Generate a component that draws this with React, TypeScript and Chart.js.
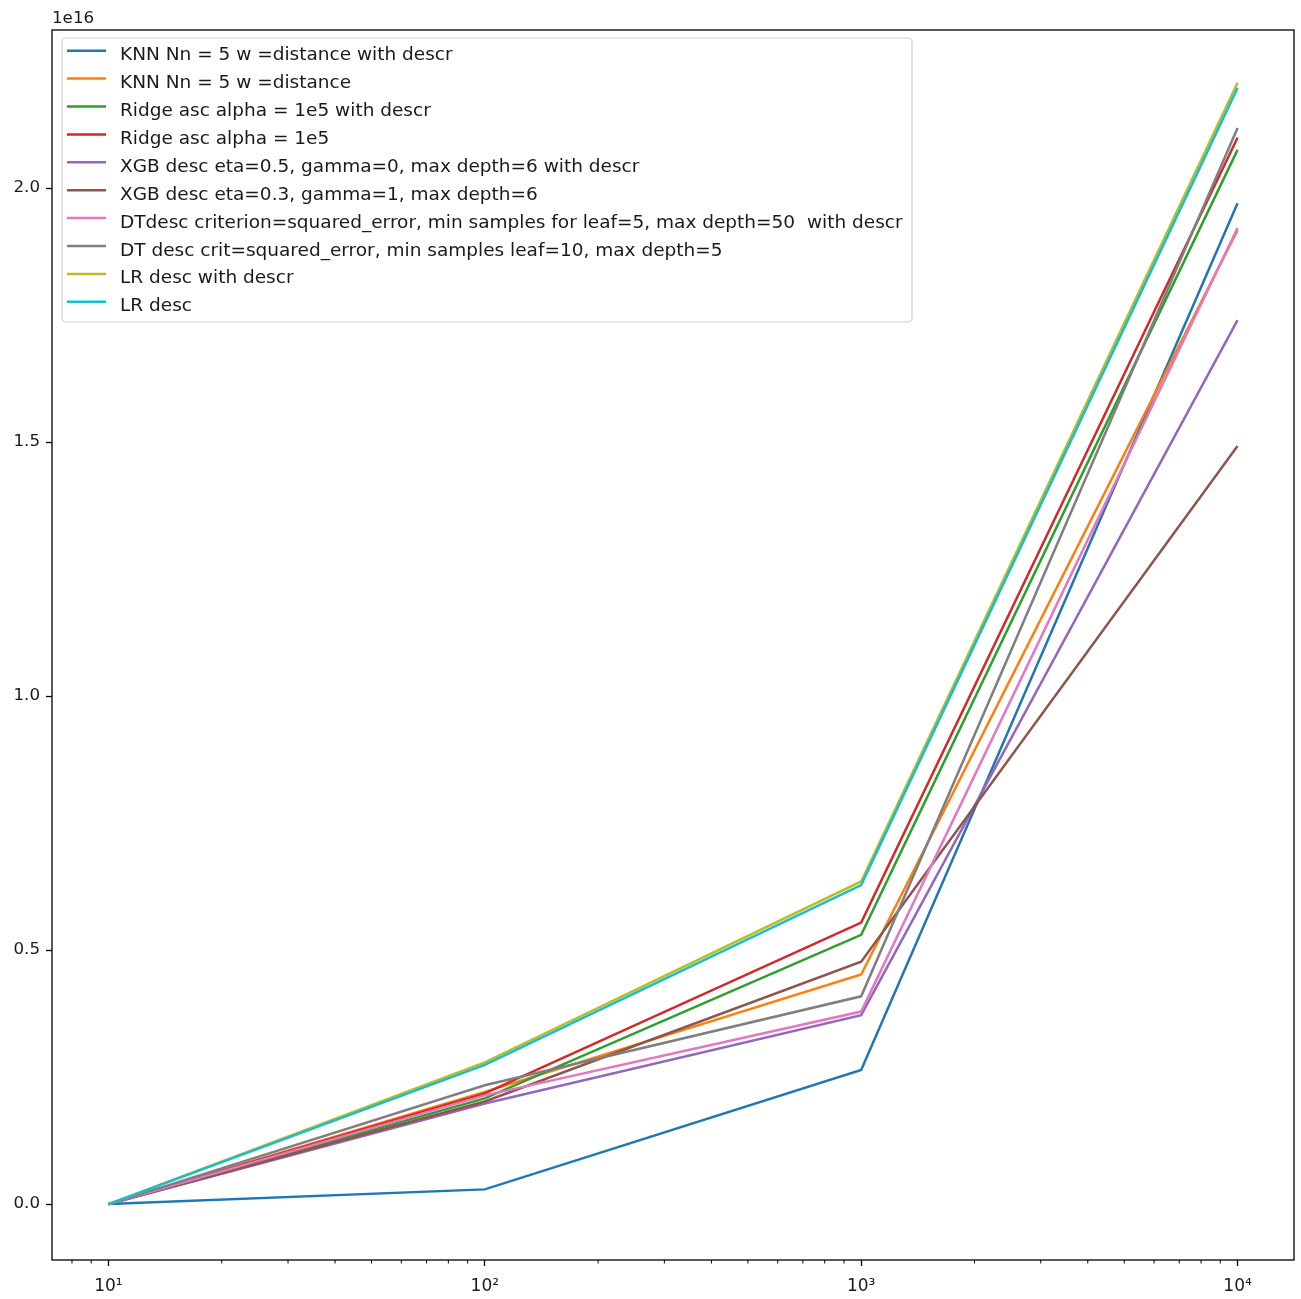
import React, { useEffect, useRef } from "react";
import { Chart, registerables } from "chart.js";

Chart.register(...registerables);

// ---------- data ----------
const xValues = [10, 100, 1000, 10000];

const seriesLabels = [
  "KNN Nn = 5 w =distance with descr",
  "KNN Nn = 5 w =distance",
  "Ridge asc alpha = 1e5 with descr",
  "Ridge asc alpha = 1e5",
  "XGB desc eta=0.5, gamma=0, max depth=6 with descr",
  "XGB desc eta=0.3, gamma=1, max depth=6",
  "DTdesc criterion=squared_error, min samples for leaf=5, max depth=50  with descr",
  "DT desc crit=squared_error, min samples leaf=10, max depth=5",
  "LR desc with descr",
  "LR desc",
];

const seriesColors = [
  "#1f77b4",
  "#ff7f0e",
  "#2ca02c",
  "#d62728",
  "#9467bd",
  "#8c564b",
  "#e377c2",
  "#7f7f7f",
  "#bcbd22",
  "#17becf",
];

const knnDistDescr = [0, 0.029e16, 0.264e16, 1.97e16];
const knnDist = [0, 0.221e16, 0.452e16, 1.917e16];
const ridgeDescr = [0, 0.208e16, 0.53e16, 2.075e16];
const ridge = [0, 0.218e16, 0.554e16, 2.099e16];
const xgbEta05Descr = [0, 0.198e16, 0.372e16, 1.74e16];
const xgbEta03 = [0, 0.202e16, 0.477e16, 1.492e16];
const dtDescr = [0, 0.214e16, 0.379e16, 1.921e16];
const dt = [0, 0.234e16, 0.409e16, 2.118e16];
const lrDescr = [0, 0.279e16, 0.635e16, 2.207e16];
const lr = [0, 0.274e16, 0.628e16, 2.197e16];

const seriesValues = [
  knnDistDescr,
  knnDist,
  ridgeDescr,
  ridge,
  xgbEta05Descr,
  xgbEta03,
  dtDescr,
  dt,
  lrDescr,
  lr,
];

const yTickValues = [0, 0.5e16, 1.0e16, 1.5e16, 2.0e16];
const yTickLabels = ["0.0", "0.5", "1.0", "1.5", "2.0"];
const xMajorTicks = [10, 100, 1000, 10000];
const xTickLabels = ["10¹", "10²", "10³", "10⁴"];
const xMinorTicks = [
  8, 9, 20, 30, 40, 50, 60, 70, 80, 90, 200, 300, 400, 500, 600, 700, 800, 900,
  2000, 3000, 4000, 5000, 6000, 7000, 8000, 9000,
];
const offsetLabel = "1e16";

// ---------- styling ----------
const FONT = '"DejaVu Sans", "Liberation Sans", sans-serif';
const TEXT = "#1a1a1a";

const mplPlugin = {
  id: "mplDecor",
  afterDraw(chart: any) {
    const ctx = chart.ctx;
    const a = chart.chartArea;
    ctx.save();
    // frame (all four spines)
    ctx.strokeStyle = "#000";
    ctx.lineWidth = 1.3;
    ctx.strokeRect(a.left, a.top, a.right - a.left, a.bottom - a.top);

    // minor ticks on x
    const xs = chart.scales.x;
    ctx.lineWidth = 1.0;
    for (const v of xMinorTicks) {
      const px = xs.getPixelForValue(v);
      if (px < a.left || px > a.right) continue;
      ctx.beginPath();
      ctx.moveTo(px, a.bottom);
      ctx.lineTo(px, a.bottom + 3.5);
      ctx.stroke();
    }

    // offset text
    ctx.fillStyle = TEXT;
    ctx.font = `16.7px ${FONT}`;
    ctx.textAlign = "left";
    ctx.textBaseline = "alphabetic";
    ctx.fillText(offsetLabel, a.left, 23);

    // legend
    const lx = 62, ly = 38, lw = 850, lh = 284;
    ctx.beginPath();
    ctx.roundRect(lx, ly, lw, lh, 4);
    ctx.fillStyle = "rgba(255,255,255,0.8)";
    ctx.fill();
    ctx.strokeStyle = "#d0d0d0";
    ctx.lineWidth = 1.2;
    ctx.stroke();

    ctx.font = `18.5px ${FONT}`;
    chart.data.datasets.forEach((ds: any, i: number) => {
      const y = 50.7 + 27.9 * i;
      ctx.strokeStyle = ds.borderColor;
      ctx.lineWidth = 2.5;
      ctx.beginPath();
      ctx.moveTo(67, y);
      ctx.lineTo(106, y);
      ctx.stroke();
      ctx.fillStyle = TEXT;
      ctx.fillText(ds.label, 120, y + 9.5);
    });
    ctx.restore();
  },
};

export default function App() {
  const canvasRef = useRef<HTMLCanvasElement | null>(null);

  useEffect(() => {
    if (!canvasRef.current) return;
    const datasets = seriesLabels.map((label, i) => ({
      label,
      data: xValues.map((x, j) => ({ x, y: seriesValues[i][j] })),
      borderColor: seriesColors[i],
      backgroundColor: seriesColors[i],
      borderWidth: 2.5,
      pointRadius: 0,
      tension: 0,
      fill: false,
      order: seriesLabels.length - i,
    }));

    const chart = new Chart(canvasRef.current, {
      type: "line",
      data: { datasets },
      options: {
        animation: false,
        responsive: false,
        devicePixelRatio: 1,
        layout: { padding: { left: 0, top: 30, right: 7, bottom: 0 } },
        plugins: {
          legend: { display: false },
          tooltip: { enabled: false },
          title: { display: false },
        },
        scales: {
          x: {
            type: "logarithmic",
            min: Math.pow(10, 0.85),
            max: Math.pow(10, 4.15),
            afterBuildTicks: (scale: any) => {
              scale.ticks = xMajorTicks.map((v) => ({ value: v }));
            },
            afterFit: (scale: any) => {
              scale.height = 39;
            },
            ticks: {
              autoSkip: false,
              maxRotation: 0,
              padding: 10,
              color: TEXT,
              font: { family: FONT, size: 17 },
              callback: (_v: any, idx: number) => xTickLabels[idx],
            },
            grid: {
              drawOnChartArea: false,
              drawTicks: true,
              tickLength: 6,
              tickColor: "#000",
              tickWidth: 1.3,
            },
            border: { display: false },
          },
          y: {
            type: "linear",
            min: -0.11e16,
            max: 2.311e16,
            afterBuildTicks: (scale: any) => {
              scale.ticks = yTickValues.map((v) => ({ value: v }));
            },
            afterFit: (scale: any) => {
              scale.width = 52;
            },
            ticks: {
              autoSkip: false,
              padding: 6,
              color: TEXT,
              font: { family: FONT, size: 16.7 },
              callback: (_v: any, idx: number) => yTickLabels[idx],
            },
            grid: {
              drawOnChartArea: false,
              drawTicks: true,
              tickLength: 6,
              tickColor: "#000",
              tickWidth: 1.3,
            },
            border: { display: false },
          },
        },
      },
      plugins: [mplPlugin],
    } as any);

    return () => chart.destroy();
  }, []);

  return (
    <div style={{ position: "fixed", left: 0, top: 0, width: 1301, height: 1299, background: "#fff" }}>
      <canvas ref={canvasRef} width={1301} height={1299} style={{ display: "block" }} />
    </div>
  );
}
